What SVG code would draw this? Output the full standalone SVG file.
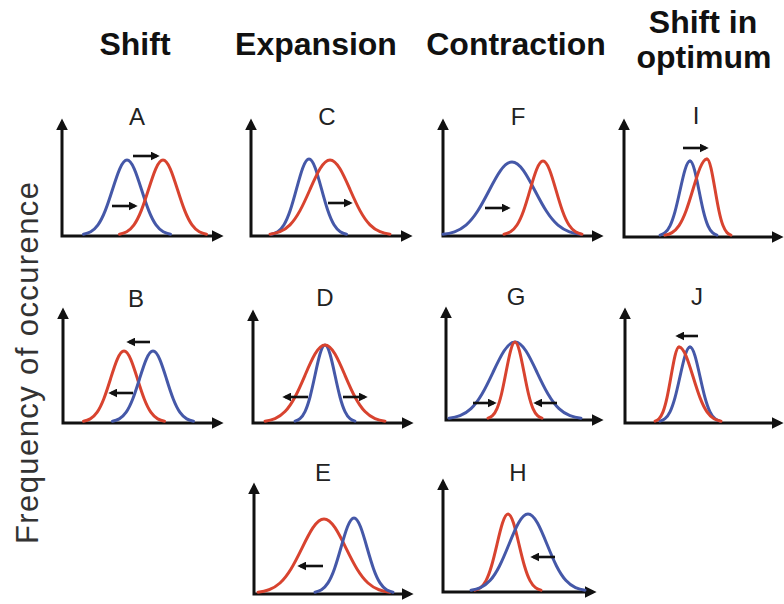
<svg xmlns="http://www.w3.org/2000/svg" xmlns:xlink="http://www.w3.org/1999/xlink" width="784" height="604" viewBox="0 0 784 604">
<style>
.ax{fill:none;stroke:#111;stroke-width:3;marker-start:url(#ah);marker-end:url(#ah)}
.ar{fill:none;stroke:#111;stroke-width:2.6;marker-end:url(#sa)}
.c{fill:none;stroke-width:3;stroke-linecap:round}
.b{stroke:#4558a8}
.r{stroke:#d8432f}
.lbl{font-family:"Liberation Sans",Arial,sans-serif;font-size:24px;fill:#222;text-anchor:middle}
.hd{font-family:"Liberation Sans",Arial,sans-serif;font-size:32px;font-weight:bold;fill:#111;text-anchor:middle}
.yl{font-family:"Liberation Sans",Arial,sans-serif;font-size:31px;fill:#333;text-anchor:middle}
</style>
<defs>
<marker id="ah" viewBox="0 0 10 10" markerWidth="12" markerHeight="12" refX="7" refY="5" orient="auto-start-reverse" markerUnits="userSpaceOnUse"><path d="M0,0 L10,5 L0,10 z" fill="#111"/></marker>
<marker id="sa" viewBox="0 0 10 10" markerWidth="9" markerHeight="9" refX="7" refY="5" orient="auto" markerUnits="userSpaceOnUse"><path d="M0,0 L10,5 L0,10 z" fill="#111"/></marker>
<path id="g" vector-effect="non-scaling-stroke" d="M-3 -0.0111 C-2.8333 -0.0167 -2.6667 -0.0256 -2.5 -0.0439 C-2.3333 -0.0622 -2.1667 -0.0902 -2 -0.1353 C-1.8333 -0.1804 -1.6667 -0.2435 -1.5 -0.3247 C-1.3333 -0.4058 -1.1667 -0.5054 -1 -0.6065 C-0.8333 -0.7076 -0.6667 -0.8090 -0.5 -0.8825 C-0.3333 -0.9560 -0.1667 -1 0 -1 C0.1667 -1 0.3333 -0.9560 0.5 -0.8825 C0.6667 -0.8090 0.8333 -0.7076 1 -0.6065 C1.1667 -0.5054 1.3333 -0.4058 1.5 -0.3247 C1.6667 -0.2435 1.8333 -0.1804 2 -0.1353 C2.1667 -0.0902 2.3333 -0.0622 2.5 -0.0439 C2.6667 -0.0256 2.8333 -0.0167 3 -0.0111"/>
<path id="gl" vector-effect="non-scaling-stroke" d="M-3 -0.0111 C-2.8333 -0.0167 -2.6667 -0.0256 -2.5 -0.0439 C-2.3333 -0.0622 -2.1667 -0.0902 -2 -0.1353 C-1.8333 -0.1804 -1.6667 -0.2435 -1.5 -0.3247 C-1.3333 -0.4058 -1.1667 -0.5054 -1 -0.6065 C-0.8333 -0.7076 -0.6667 -0.8090 -0.5 -0.8825 C-0.3333 -0.9560 -0.1667 -1 0 -1"/>
<path id="gr" vector-effect="non-scaling-stroke" d="M0 -1 C0.1667 -1 0.3333 -0.9560 0.5 -0.8825 C0.6667 -0.8090 0.8333 -0.7076 1 -0.6065 C1.1667 -0.5054 1.3333 -0.4058 1.5 -0.3247 C1.6667 -0.2435 1.8333 -0.1804 2 -0.1353 C2.1667 -0.0902 2.3333 -0.0622 2.5 -0.0439 C2.6667 -0.0256 2.8333 -0.0167 3 -0.0111"/>
</defs>
<rect width="784" height="604" fill="#fff"/>

<g id="headers">
<text class="hd" x="135" y="55">Shift</text>
<text class="hd" x="316" y="55">Expansion</text>
<text class="hd" x="516" y="55">Contraction</text>
<text class="hd" x="703" y="33">Shift in</text>
<text class="hd" x="704" y="68">optimum</text>
</g>
<g id="y-label">
<text class="yl" transform="translate(38,363) rotate(-90)" textLength="362" lengthAdjust="spacing">Frequency of occurence</text>
</g>

<g id="panel-A">
<text class="lbl" x="137" y="125">A</text>
<path class="ax" d="M62 122 L62 236 L220 236"/>
<use href="#g" class="c b" transform="translate(127,235) scale(14.5,75)"/>
<use href="#g" class="c r" transform="translate(163,235) scale(14.5,75)"/>
</g>
<g id="panel-C">
<text class="lbl" x="327" y="125">C</text>
<path class="ax" d="M251 122 L251 236 L409 236"/>
<use href="#g" class="c b" transform="translate(309,235) scale(12.5,76)"/>
<use href="#g" class="c r" transform="translate(330,235) scale(20,75)"/>
</g>
<g id="panel-F">
<text class="lbl" x="518" y="125">F</text>
<path class="ax" d="M443 122 L443 236 L600 236"/>
<use href="#g" class="c b" transform="translate(512,235) scale(23,73)"/>
<use href="#g" class="c r" transform="translate(543,235) scale(13,74)"/>
</g>
<g id="panel-I">
<text class="lbl" x="696" y="124">I</text>
<path class="ax" d="M624 122 L624 237 L780 237"/>
<use href="#gl" class="c b" transform="translate(690,236) scale(10,75)"/>
<use href="#gr" class="c b" transform="translate(690,236) scale(9,75)"/>
<use href="#gl" class="c r" transform="translate(707,236) scale(14,77)"/>
<use href="#gr" class="c r" transform="translate(707,236) scale(8,77)"/>
</g>

<g id="panel-B">
<text class="lbl" x="136" y="307">B</text>
<path class="ax" d="M63 311 L63 423 L220 423"/>
<use href="#g" class="c r" transform="translate(124,422) scale(13.5,71)"/>
<use href="#g" class="c b" transform="translate(153,422) scale(13.5,71)"/>
</g>
<g id="panel-D">
<text class="lbl" x="325" y="306">D</text>
<path class="ax" d="M253 313 L253 423 L410 423"/>
<use href="#g" class="c b" transform="translate(325,422) scale(10,77)"/>
<use href="#g" class="c r" transform="translate(325,422) scale(20,77)"/>
</g>
<g id="panel-G">
<text class="lbl" x="516" y="305">G</text>
<path class="ax" d="M446 310 L446 420 L600 420"/>
<use href="#g" class="c b" transform="translate(515,419) scale(22,77)"/>
<use href="#g" class="c r" transform="translate(515,419) scale(9,77)"/>
</g>
<g id="panel-J">
<text class="lbl" x="697" y="305">J</text>
<path class="ax" d="M625 311 L625 423 L780 423"/>
<use href="#gl" class="c b" transform="translate(690,422) scale(10,75)"/>
<use href="#gr" class="c b" transform="translate(690,422) scale(10,75)"/>
<use href="#gl" class="c r" transform="translate(679,422) scale(8,75)"/>
<use href="#gr" class="c r" transform="translate(679,422) scale(14,75)"/>
</g>

<g id="panel-E">
<text class="lbl" x="323" y="481">E</text>
<path class="ax" d="M254 486 L254 594 L410 594"/>
<use href="#g" class="c r" transform="translate(324,593) scale(22,74)"/>
<use href="#g" class="c b" transform="translate(354,593) scale(13,75)"/>
</g>
<g id="panel-H">
<text class="lbl" x="518" y="481">H</text>
<path class="ax" d="M443 482 L443 592 L593 592"/>
<use href="#g" class="c r" transform="translate(508,591) scale(11,77)"/>
<use href="#g" class="c b" transform="translate(528,591) scale(19,77)"/>
</g>

<g id="connectors">
<path class="ar" d="M133 156 L157 156"/>
<path class="ar" d="M112 206 L135 206"/>
<path class="ar" d="M328 203 L350 203"/>
<path class="ar" d="M485 208 L508 208"/>
<path class="ar" d="M683 148 L706 148"/>
<path class="ar" d="M150 342 L129 342"/>
<path class="ar" d="M133 393 L111 393"/>
<path class="ar" d="M308 397 L285 397"/>
<path class="ar" d="M343 397 L365 397"/>
<path class="ar" d="M473 403 L494 403"/>
<path class="ar" d="M557 403 L536 403"/>
<path class="ar" d="M698 336 L678 336"/>
<path class="ar" d="M323 566 L300 566"/>
<path class="ar" d="M555 557 L533 557"/>
</g>
</svg>
